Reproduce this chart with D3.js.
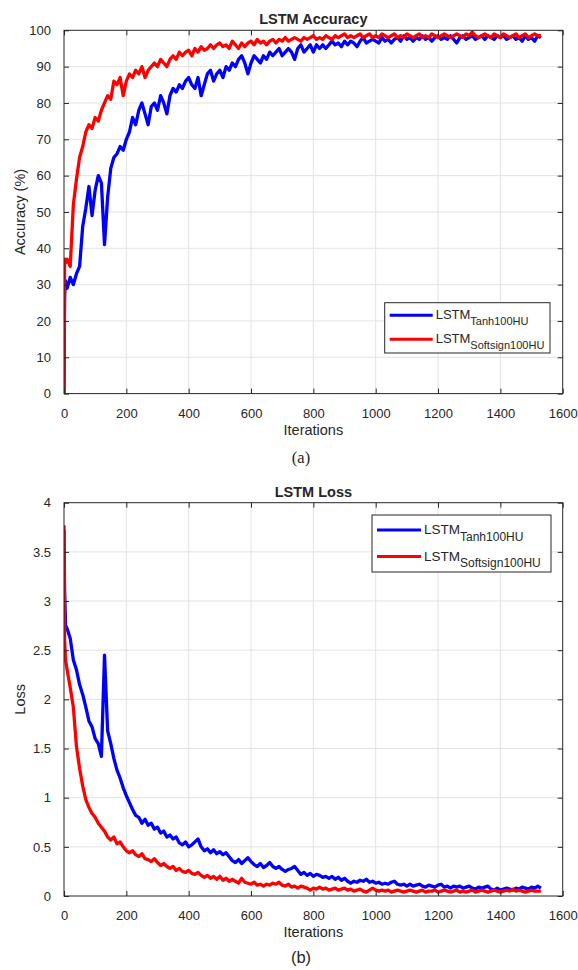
<!DOCTYPE html>
<html><head><meta charset="utf-8">
<script src="https://cdn.jsdelivr.net/npm/d3@7"></script>
<style>
html,body{margin:0;padding:0;background:#fff;}
svg{display:block;}
text{font-family:"Liberation Sans",Arial,sans-serif;fill:#262626;}
</style></head>
<body>
<svg id="chart" width="578" height="970"></svg>
<script>
// ---------------- DATA ----------------
const iterations = [0, 2, 5].concat(d3.range(10, 1531, 10));
const xTicks = [0, 200, 400, 600, 800, 1000, 1200, 1400, 1600];
const accTicks = [0, 10, 20, 30, 40, 50, 60, 70, 80, 90, 100];
const lossTicks = [0, 0.5, 1, 1.5, 2, 2.5, 3, 3.5, 4];
const seriesNames = ["Tanh100HU", "Softsign100HU"];

const accTanh = [0,27,31,
29,32,30,33,35,46,51,57,49,56,
60,58,41,54,62,65,66,68,67,70,
72,76,74,78,80,77,74,79,80,78,
82,80,77,82,84,83,85,84,86,87,
85,84,87,82,85,88,89,86,88,89,
87,90,89,91,90,92,93,91,88,91,
93,92,91,93,92,94,93,94,95,93,
94,95,94,92,95,96,94,95,96,94,
96,95,96,95,96,97,96,96.5,95.5,97,
96,97,96.5,95.5,97,98,96.5,97,97.5,97,
96.5,98,97,97.5,96.5,97.5,98,97,98.5,97.5,
98,97,98,97.5,98.5,97.5,98,97,98,98.5,
97.5,98,97.5,98.5,97.5,96.5,98,98.5,97.5,98,
98.5,97.5,98,98.5,97.5,98.5,98,97.5,98.5,98,
98.5,97.5,98,98.5,97.5,98,97,98.5,97.5,98,
97,98.5,98];

const accSoftsign = [0,37,36,
37,35,52,59,65,68,72,74,73,76,
75,78,80,82,81,86,85,87,82,86,
88,87,89,88,90,87,89,90,91,90,
92,91,90,92,93,92,94,93,94,94.5,
93,95,94,95.5,94.5,95,96,95,96,96.5,
95.5,96,95,97,96,95,96.5,95.5,96.5,97,
96,97.5,96.5,97,96,97,97.5,96.5,97.5,97,
98,97,97.5,98,97.5,97,98,97.5,98,98.5,
97.5,98,97.5,98.5,98,97.5,98.5,98,98.5,99,
98,98.5,98,98.5,99,98,98.5,99,98,98.5,
98,99,98.5,98,98.5,99,98,98.5,98,99,
98.5,98,98.5,99,98,98.5,98,99,98.5,98,
98.5,99,98.5,98,98.5,99,98.5,98,99,98.5,
99.5,98.5,98,98.5,99,98.5,98,99,98.5,98,
99,98.5,98,98.5,99,98,98.5,99,98,98.5,
99,98.5,98.5];

const lossTanh = [3.72,3.1,2.75,
2.72,2.62,2.4,2.3,2.15,2.05,1.92,1.78,1.72,1.6,
1.55,1.42,2.45,1.68,1.55,1.4,1.28,1.2,1.1,1.02,
0.95,0.88,0.82,0.8,0.74,0.78,0.72,0.74,0.68,0.7,
0.64,0.66,0.6,0.62,0.58,0.6,0.54,0.52,0.55,0.5,
0.52,0.55,0.58,0.5,0.46,0.48,0.44,0.47,0.43,0.45,
0.42,0.44,0.4,0.36,0.34,0.37,0.33,0.36,0.39,0.35,
0.32,0.3,0.33,0.29,0.31,0.34,0.3,0.28,0.3,0.27,
0.25,0.27,0.28,0.3,0.26,0.22,0.24,0.21,0.23,0.2,
0.22,0.21,0.19,0.2,0.18,0.2,0.17,0.19,0.16,0.18,
0.15,0.13,0.15,0.14,0.16,0.15,0.17,0.14,0.15,0.13,
0.14,0.12,0.13,0.12,0.14,0.15,0.12,0.11,0.12,0.1,
0.12,0.1,0.11,0.12,0.1,0.09,0.11,0.1,0.09,0.11,
0.12,0.09,0.1,0.08,0.1,0.09,0.1,0.08,0.09,0.1,
0.08,0.07,0.09,0.08,0.09,0.1,0.07,0.06,0.08,0.06,
0.07,0.08,0.07,0.06,0.08,0.07,0.09,0.08,0.07,0.09,
0.08,0.1,0.08];

const lossSoftsign = [3.77,2.6,2.4,
2.3,2.12,1.92,1.52,1.3,1.12,0.98,0.9,0.84,0.8,
0.74,0.7,0.66,0.6,0.57,0.6,0.53,0.55,0.5,0.46,
0.44,0.46,0.42,0.4,0.43,0.38,0.37,0.35,0.38,0.34,
0.31,0.33,0.3,0.28,0.3,0.26,0.28,0.25,0.24,0.26,
0.23,0.22,0.24,0.21,0.19,0.21,0.18,0.2,0.17,0.2,
0.16,0.18,0.15,0.17,0.15,0.13,0.18,0.14,0.13,0.12,
0.14,0.11,0.12,0.1,0.12,0.11,0.13,0.12,0.14,0.11,
0.1,0.12,0.09,0.1,0.08,0.1,0.09,0.08,0.06,0.08,
0.07,0.09,0.07,0.08,0.06,0.07,0.08,0.06,0.07,0.08,
0.06,0.07,0.05,0.06,0.07,0.05,0.04,0.06,0.08,0.06,
0.05,0.06,0.05,0.06,0.04,0.05,0.06,0.05,0.04,0.05,
0.06,0.05,0.04,0.05,0.06,0.04,0.05,0.05,0.06,0.04,
0.05,0.06,0.05,0.04,0.05,0.06,0.04,0.05,0.04,0.05,
0.06,0.04,0.05,0.06,0.05,0.04,0.05,0.06,0.05,0.04,
0.05,0.06,0.05,0.07,0.05,0.06,0.05,0.04,0.05,0.06,
0.05,0.05,0.05];

// ---------------- DRAW ----------------
const svg = d3.select("#chart");
svg.append("rect").attr("width",578).attr("height",970).attr("fill","#fff");
const colors = ["#0000ff", "#ff0000"];
const AX = "#262626", GRID = "#e3e3e3";

function panel(o) {
  const x = d3.scaleLinear().domain([0, 1600]).range([o.left, o.right]);
  const y = d3.scaleLinear().domain(o.yDomain).range([o.bottom, o.top]);
  const g = svg.append("g");
  const clipId = "clip" + o.id;
  svg.append("clipPath").attr("id", clipId).append("rect")
    .attr("x", o.left).attr("y", o.top - 2).attr("width", o.right - o.left).attr("height", o.bottom - o.top + 2);

  // grid
  g.append("g").selectAll("line").data(xTicks.slice(1, -1)).join("line")
    .attr("x1", d => x(d)).attr("x2", d => x(d)).attr("y1", o.top).attr("y2", o.bottom)
    .attr("stroke", GRID).attr("stroke-width", 1);
  g.append("g").selectAll("line").data(o.yTicks.slice(1, -1)).join("line")
    .attr("y1", d => y(d)).attr("y2", d => y(d)).attr("x1", o.left).attr("x2", o.right)
    .attr("stroke", GRID).attr("stroke-width", 1);

  // lines
  const line = d3.line().x((d, i) => x(iterations[i])).y(d => y(d));
  const lg = g.append("g").attr("clip-path", `url(#${clipId})`);
  o.series.forEach((s, k) => {
    lg.append("path").datum(s).attr("d", line).attr("fill", "none")
      .attr("stroke", colors[k]).attr("stroke-width", 3.3)
      .attr("stroke-linejoin", "round").attr("stroke-linecap", "butt");
  });

  // axes (MATLAB-style inward ticks on all sides)
  const tl = 5;
  const axB = d3.axisBottom(x).tickValues(xTicks).tickSize(-tl).tickPadding(10 + tl).tickFormat(d3.format("d"));
  const axT = d3.axisTop(x).tickValues(xTicks).tickSize(-tl).tickFormat("");
  const axL = d3.axisLeft(y).tickValues(o.yTicks).tickSize(-tl).tickPadding(8 + tl).tickFormat(d => String(d));
  const axR = d3.axisRight(y).tickValues(o.yTicks).tickSize(-tl).tickFormat("");
  [[axB, `translate(0,${o.bottom})`], [axT, `translate(0,${o.top})`],
   [axL, `translate(${o.left},0)`], [axR, `translate(${o.right},0)`]].forEach(([a, t]) => {
    const ag = g.append("g").attr("transform", t).call(a);
    ag.select(".domain").remove();
    ag.selectAll(".tick line").attr("stroke", AX);
    ag.selectAll(".tick text").attr("fill", AX).style("font-size", "13px")
      .style("font-family", '"Liberation Sans",Arial,sans-serif');
  });
  g.append("rect").attr("x", o.left).attr("y", o.top)
    .attr("width", o.right - o.left).attr("height", o.bottom - o.top)
    .attr("fill", "none").attr("stroke", AX).attr("stroke-width", 1);

  // titles / labels
  g.append("text").attr("x", (o.left + o.right) / 2).attr("y", o.top - 6)
    .attr("text-anchor", "middle").style("font-size", "14.5px").style("font-weight", "bold")
    .attr("fill", "#000").text(o.title);
  g.append("text").attr("x", (o.left + o.right) / 2).attr("y", o.bottom + 41)
    .attr("text-anchor", "middle").style("font-size", "14.5px").text("Iterations");
  g.append("text").attr("transform", `translate(${o.ylabX},${(o.top + o.bottom) / 2}) rotate(-90)`)
    .attr("text-anchor", "middle").style("font-size", "14.5px").text(o.ylab);

  // legend
  const L = o.legend;
  g.append("rect").attr("x", L.x).attr("y", L.y).attr("width", L.w).attr("height", L.h)
    .attr("fill", "#fff").attr("stroke", AX).attr("stroke-width", 1);
  seriesNames.forEach((n, k) => {
    const yy = L.y + L.row0 + k * L.dy;
    g.append("line").attr("x1", L.x + 5).attr("x2", L.x + 5 + L.len).attr("y1", yy).attr("y2", yy)
      .attr("stroke", colors[k]).attr("stroke-width", 3);
    const t = g.append("text").attr("x", L.x + 8 + L.len).attr("y", yy + L.fs * 0.33)
      .style("font-size", L.fs + "px");
    t.append("tspan").text("LSTM");
    t.append("tspan").attr("dy", L.fs * 0.45).style("font-size", L.sfs + "px").text(n);
  });

  // caption
  g.append("text").attr("x", 301).attr("y", o.capY).attr("text-anchor", "middle")
    .style("font-size", "16.5px").style("font-family", o.capFont).attr("fill", "#000").text(o.caption);
}

panel({
  id: 1, left: 64, right: 562.7, top: 30.3, bottom: 393.6,
  yDomain: [0, 100], yTicks: accTicks, series: [accTanh, accSoftsign],
  title: "LSTM Accuracy", ylab: "Accuracy (%)", ylabX: 25,
  legend: {x: 384.7, y: 302.7, w: 165.3, h: 50.3, row0: 12.5, dy: 24, len: 43, fs: 13, sfs: 11},
  caption: "(a)", capY: 463, capFont: '"Liberation Serif","Times New Roman",serif'
});
panel({
  id: 2, left: 64, right: 562.7, top: 502.7, bottom: 896,
  yDomain: [0, 4], yTicks: lossTicks, series: [lossTanh, lossSoftsign],
  title: "LSTM Loss", ylab: "Loss", ylabX: 25,
  legend: {x: 372, y: 515, w: 179, h: 57, row0: 15, dy: 26.5, len: 44, fs: 13.5, sfs: 12},
  caption: "(b)", capY: 963, capFont: '"Liberation Sans",Arial,sans-serif'
});
</script>
</body></html>
